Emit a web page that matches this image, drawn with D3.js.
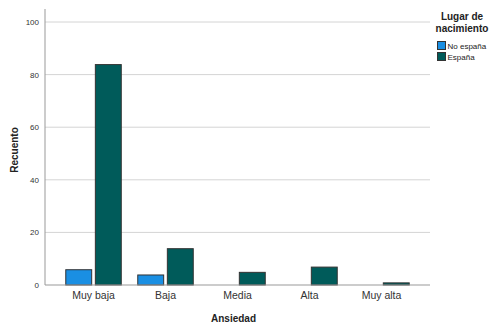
<!DOCTYPE html>
<html><head><meta charset="utf-8">
<script src="https://cdn.jsdelivr.net/npm/d3@7"></script>
<style>body{margin:0;background:#fff;font-family:Arial,"Liberation Sans",sans-serif}</style>
</head><body><svg id="c" width="493" height="325"></svg>
<script>
const categories = ["Muy baja","Baja","Media","Alta","Muy alta"];
const seriesNames = ["No españa","España"];
const noEspana = [6,4,0,0,0];
const espana = [84,14,5,7,1];
const yTicks = [0,20,40,60,80,100];
const colors = ["#1a8fe3","#005b5a"];

(function(){
const svg = d3.select("#c");
const pLeft=45, pRight=430, pTop=9, pBottom=285;
const x = d3.scaleBand().domain(categories).range([pLeft,pRight]).paddingInner(0).paddingOuter(0.174);
const y = d3.scaleLinear().domain([0,100]).range([pBottom,22]);
const x1 = d3.scaleBand().domain(seriesNames).range([0,56.5]).paddingInner(0.09);
const off = (x.bandwidth()-56.5)/2;

// grid
svg.append("g").selectAll("line").data(yTicks.filter(d=>d>0)).join("line")
  .attr("x1",pLeft).attr("x2",pRight).attr("y1",d=>y(d)).attr("y2",d=>y(d))
  .attr("stroke","#d4d4d4").attr("stroke-width",1);

// y axis
const ya = svg.append("g").attr("transform",`translate(${pLeft},0)`)
  .call(d3.axisLeft(y).tickValues(yTicks).tickSize(0).tickPadding(6));
ya.select(".domain").remove();
ya.selectAll("text").attr("font-size","8px").attr("fill","#333").attr("font-family","Arial, 'Liberation Sans', sans-serif");
svg.append("line").attr("x1",pLeft).attr("x2",pLeft).attr("y1",pTop).attr("y2",pBottom).attr("stroke","#999");

// bars
const data = categories.map((c,i)=>({c, vals:[noEspana[i],espana[i]]}));
const g = svg.append("g");
data.forEach(d=>{
  d.vals.forEach((v,j)=>{
    if(v<=0) return;
    g.append("rect")
      .attr("x",x(d.c)+off+x1(seriesNames[j])+0.5)
      .attr("y",y(v)+0.5)
      .attr("width",x1.bandwidth()-1)
      .attr("height",pBottom-y(v)-0.5)
      .attr("fill",colors[j]).attr("stroke","#333").attr("stroke-width",1);
  });
});

// x axis
const xa = svg.append("g").attr("transform",`translate(0,${pBottom})`)
  .call(d3.axisBottom(x).tickSize(0).tickPadding(7));
xa.select(".domain").remove();
xa.selectAll("text").attr("font-size","10.5px").attr("fill","#333").attr("font-family","Arial, 'Liberation Sans', sans-serif");
svg.append("line").attr("x1",pLeft).attr("x2",pRight).attr("y1",pBottom).attr("y2",pBottom).attr("stroke","#999");

// axis titles
svg.append("text").attr("x",(pLeft+pRight)/2-4).attr("y",322).attr("text-anchor","middle")
  .attr("font-size","10px").attr("font-weight","bold").attr("fill","#222").text("Ansiedad");
svg.append("text").attr("transform","translate(18,150) rotate(-90)").attr("text-anchor","middle")
  .attr("font-size","10px").attr("font-weight","bold").attr("fill","#222").text("Recuento");

// legend
const lg = svg.append("g");
lg.append("text").attr("x",462).attr("y",20).attr("text-anchor","middle").attr("font-size","10px")
  .attr("font-weight","bold").attr("fill","#222").text("Lugar de");
lg.append("text").attr("x",462).attr("y",32).attr("text-anchor","middle").attr("font-size","10px")
  .attr("font-weight","bold").attr("fill","#222").text("nacimiento");
seriesNames.forEach((s,i)=>{
  lg.append("rect").attr("x",437.5).attr("y",41.5+i*11).attr("width",8).attr("height",8)
    .attr("fill",colors[i]).attr("stroke","#333").attr("stroke-width",1);
  lg.append("text").attr("x",447.5).attr("y",49+i*11).attr("font-size","8px").attr("fill","#222").text(s);
});
})();
</script></body></html>
